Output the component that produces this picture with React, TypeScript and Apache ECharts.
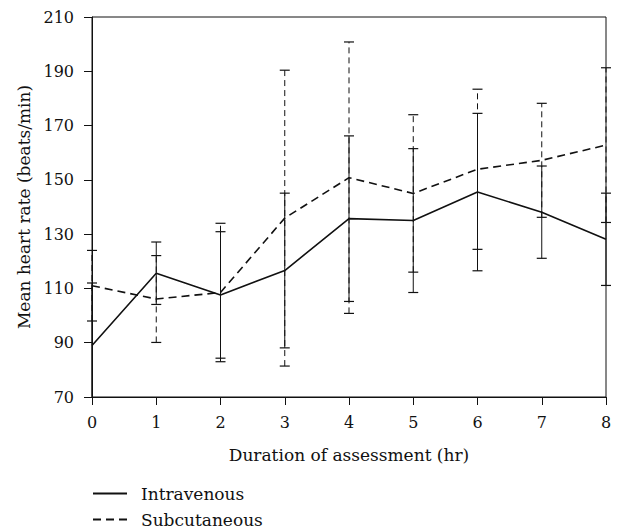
import React, { useEffect, useRef } from "react";
import * as echarts from "echarts";

const hours = [0, 1, 2, 3, 4, 5, 6, 7, 8];
const ivMean = [89, 115.6, 107.6, 116.6, 135.7, 135, 145.5, 138.1, 128.1];
const ivErr = [23, 11.5, 23.3, 28.5, 30.5, 26.5, 29, 17, 17];
const scMean = [111, 106.1, 108.5, 135.9, 150.8, 145, 153.9, 157.2, 162.8];
const scErr = [13, 16, 25.5, 54.5, 50, 29, 29.5, 21, 28.5];
const yTicks = [70, 90, 110, 130, 150, 170, 190, 210];
const xTicks = [0, 1, 2, 3, 4, 5, 6, 7, 8];

const FONT = "DejaVu Serif";
const INK = "#111";

function errorSeries(name: string, means: number[], errs: number[], dashed: boolean) {
  const data = hours.map((h, i) => [h, means[i] - errs[i], means[i] + errs[i]]);
  return {
    type: "custom",
    name: name + " error",
    data,
    z: 1,
    silent: true,
    renderItem: (params: any, api: any) => {
      const x = api.value(0);
      const lo = api.value(1);
      const hi = api.value(2);
      const yMin = 70;
      const yMax = 210;
      const pLo = api.coord([x, Math.max(lo, yMin)]);
      const pHi = api.coord([x, Math.min(hi, yMax)]);
      const style = {
        stroke: INK,
        lineWidth: 1,
        lineDash: dashed ? [6, 4] : null,
      };
      const capStyle = { stroke: INK, lineWidth: 1.2 };
      const children: any[] = [
        { type: "line", shape: { x1: pLo[0], y1: pLo[1], x2: pHi[0], y2: pHi[1] }, style },
      ];
      const w = 5;
      if (lo >= yMin) {
        children.push({ type: "line", shape: { x1: pLo[0] - w, y1: pLo[1], x2: pLo[0] + w, y2: pLo[1] }, style: capStyle });
      }
      if (hi <= yMax) {
        children.push({ type: "line", shape: { x1: pHi[0] - w, y1: pHi[1], x2: pHi[0] + w, y2: pHi[1] }, style: capStyle });
      }
      return { type: "group", children };
    },
  };
}

export default function App() {
  const ref = useRef<HTMLDivElement>(null);
  useEffect(() => {
    if (!ref.current) return;
    const chart = echarts.init(ref.current, null, { renderer: "svg" });
    chart.setOption({
      animation: false,
      backgroundColor: "#fff",
      textStyle: { fontFamily: FONT, color: INK },
      grid: {
        left: 92,
        right: 16,
        top: 17,
        bottom: 134,
        show: true,
        borderColor: INK,
        borderWidth: 1,
        backgroundColor: "transparent",
      },
      legend: {
        orient: "vertical",
        left: 92,
        top: 485,
        height: 60,
        padding: 0,
        itemWidth: 34,
        itemHeight: 14,
        itemGap: 9,
        itemStyle: { opacity: 0 },
        data: ["Intravenous", "Subcutaneous"],
        textStyle: { fontFamily: FONT, fontSize: 17, color: INK, lineHeight: 17, padding: [0, 0, 0, 9] },
      },
      xAxis: {
        type: "value",
        min: 0,
        max: 8,
        interval: 1,
        name: "Duration of assessment (hr)",
        nameLocation: "middle",
        nameGap: 49,
        nameTextStyle: { fontFamily: FONT, fontSize: 17, color: INK },
        axisLine: { show: true, lineStyle: { color: INK, width: 1 } },
        axisTick: { show: true, inside: false, length: 8, lineStyle: { color: INK }, customValues: xTicks },
        axisLabel: { fontFamily: FONT, fontSize: 16, color: INK, margin: 17, customValues: xTicks },
        splitLine: { show: false },
      },
      yAxis: {
        type: "value",
        min: 70,
        max: 210,
        name: "Mean heart rate (beats/min)",
        nameLocation: "middle",
        nameGap: 57,
        nameTextStyle: { fontFamily: FONT, fontSize: 17, color: INK },
        axisLine: { show: true, lineStyle: { color: INK, width: 1 } },
        axisTick: { show: true, inside: false, length: 8, lineStyle: { color: INK }, customValues: yTicks },
        axisLabel: { fontFamily: FONT, fontSize: 16, color: INK, margin: 18, customValues: yTicks },
        splitLine: { show: false },
      },
      series: [
        errorSeries("Intravenous", ivMean, ivErr, false),
        errorSeries("Subcutaneous", scMean, scErr, true),
        {
          type: "line",
          name: "Intravenous",
          data: hours.map((h, i) => [h, ivMean[i]]),
          symbol: "none",
          z: 3,
          lineStyle: { color: INK, width: 1.6, type: "solid" },
          itemStyle: { color: INK },
        },
        {
          type: "line",
          name: "Subcutaneous",
          data: hours.map((h, i) => [h, scMean[i]]),
          symbol: "none",
          z: 3,
          lineStyle: { color: INK, width: 1.6, type: [8, 5] },
          itemStyle: { color: INK },
        },
      ],
    });
    return () => chart.dispose();
  }, []);
  return (
    <div
      ref={ref}
      style={{ position: "fixed", left: 0, top: 0, width: 622, height: 531, background: "#fff" }}
    />
  );
}
